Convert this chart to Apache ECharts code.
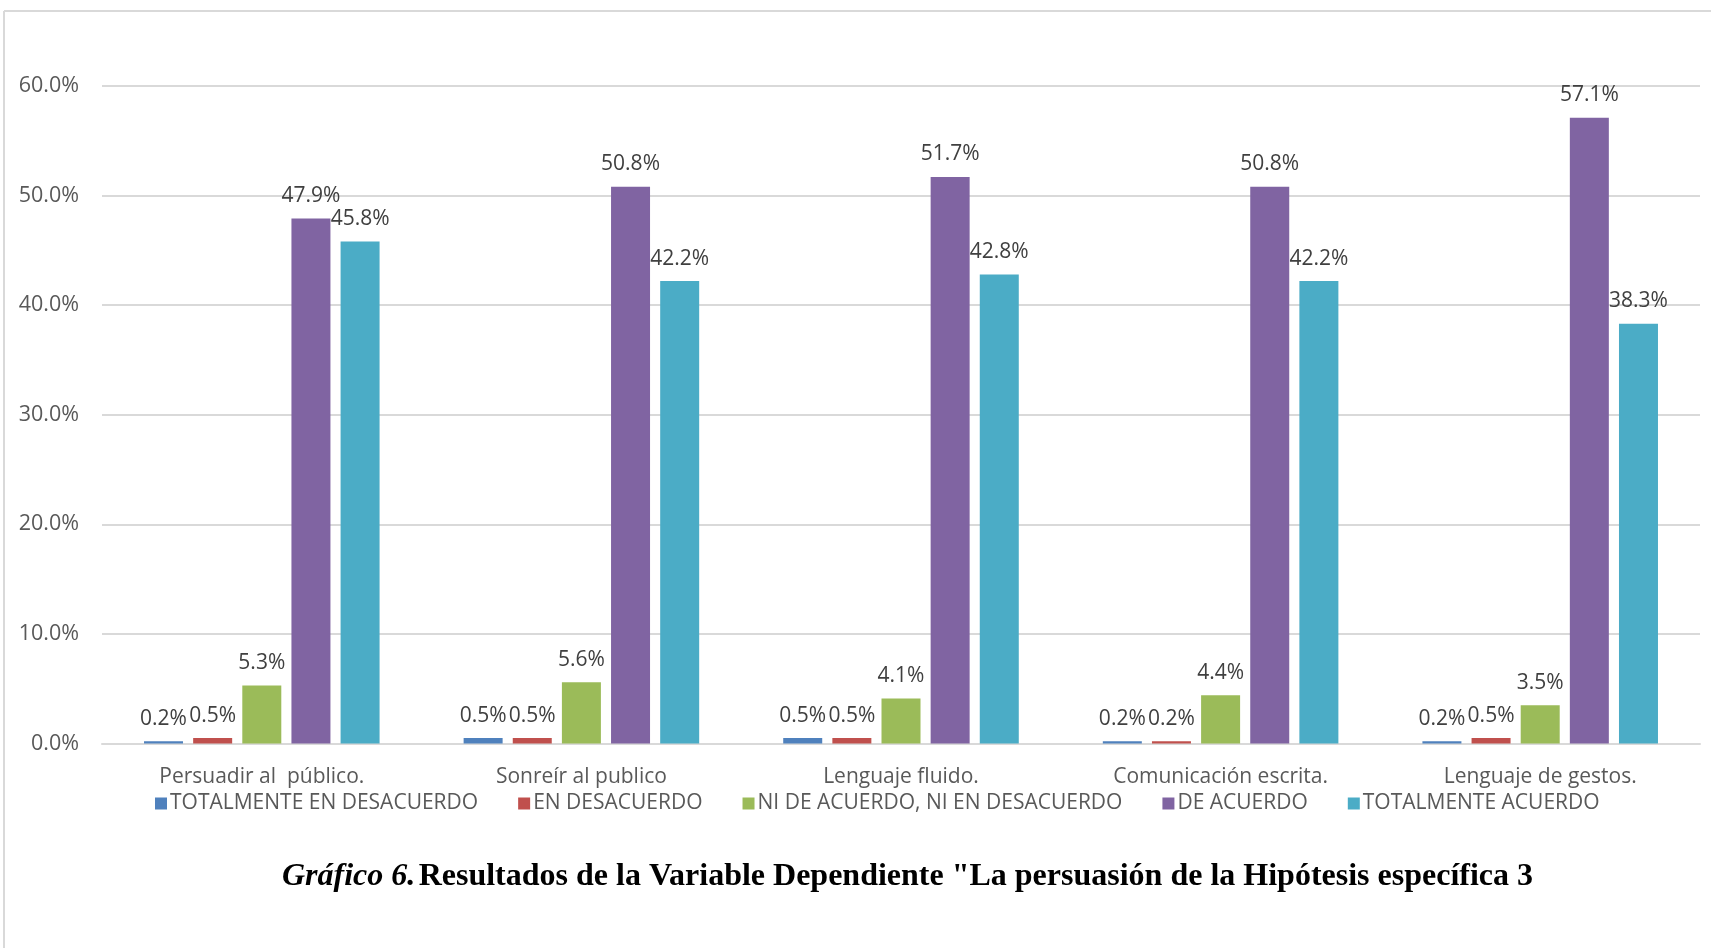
<!DOCTYPE html>
<html>
<head>
<meta charset="utf-8">
<script src="https://cdn.jsdelivr.net/npm/echarts@6/dist/echarts.min.js"></script>
<style>
  html, body { margin: 0; padding: 0; background: #fff; }
  #chart { width: 1711px; height: 948px; }
</style>
</head>
<body>
<div id="chart"></div>
<script>
  // categorías (eje x)
  const categories = ["Persuadir al  público.", "Sonreír al publico", "Lenguaje fluido.", "Comunicación escrita.", "Lenguaje de gestos."];
  // series (porcentajes)
  const totalDesacuerdo = [0.2, 0.5, 0.5, 0.2, 0.2];
  const enDesacuerdo = [0.5, 0.5, 0.5, 0.2, 0.5];
  const niNi = [5.3, 5.6, 4.1, 4.4, 3.5];
  const deAcuerdo = [47.9, 50.8, 51.7, 50.8, 57.1];
  const totalAcuerdo = [45.8, 42.2, 42.8, 42.2, 38.3];
  const seriesNames = ["TOTALMENTE EN DESACUERDO", "EN DESACUERDO", "NI DE ACUERDO, NI EN DESACUERDO", "DE ACUERDO", "TOTALMENTE ACUERDO"];
  const colors = ["#4F81BD", "#C0504D", "#9BBB59", "#8064A2", "#4BACC6"];

  const font = "'Open Sans', sans-serif";
  const allData = [totalDesacuerdo, enDesacuerdo, niNi, deAcuerdo, totalAcuerdo];

  const myChart = echarts.init(document.getElementById("chart"));
  const option = {
    color: colors,
    animation: false,
    grid: { left: 102, right: 11, top: 86, bottom: 204.5 },
    legend: {
      data: seriesNames,
      bottom: 134,
      left: 155,
      padding: 0,
      itemWidth: 12,
      itemHeight: 12,
      itemGap: 40,
      icon: "rect",
      textStyle: { color: "#595959", fontSize: 21, fontFamily: font, padding: [0, 0, 0, -2] },
    },
    xAxis: {
      type: "category",
      data: categories,
      axisLine: { lineStyle: { color: "#D9D9D9", width: 2 } },
      axisTick: { show: false },
      axisLabel: { color: "#595959", fontSize: 21, fontFamily: font, margin: 23 },
    },
    yAxis: {
      type: "value",
      min: 0,
      max: 60,
      interval: 10,
      axisLabel: {
        color: "#595959",
        fontSize: 21.5,
        fontFamily: font,
        margin: 23,
        formatter: (v) => v.toFixed(1) + "%",
      },
      splitLine: { lineStyle: { color: "#D9D9D9", width: 2 } },
    },
    series: allData.map((d, i) => ({
      name: seriesNames[i],
      type: "bar",
      data: d,
      barWidth: 39,
      barGap: "26%",
      label: {
        show: true,
        position: "top",
        distance: 12,
        color: "#404040",
        fontSize: 21,
        fontFamily: font,
        formatter: (p) => p.value.toFixed(1) + "%",
      },
    })),
    graphic: [
      { type: "line", shape: { x1: 4, y1: 11, x2: 1711, y2: 11 }, style: { stroke: "#D9D9D9", lineWidth: 2 } },
      { type: "line", shape: { x1: 4, y1: 11, x2: 4, y2: 948 }, style: { stroke: "#D9D9D9", lineWidth: 2 } },
      {
        type: "text",
        left: 282,
        top: 861,
        style: {
          text: "{i|Gráfico 6.} {b|Resultados de la Variable Dependiente \"La persuasión de la Hipótesis específica 3}",
          rich: {
            i: { fontFamily: "'Liberation Serif', serif", fontStyle: "italic", fontWeight: "bold", fontSize: 32, fill: "#000" },
            b: { fontFamily: "'Liberation Serif', serif", fontWeight: "bold", fontSize: 32, fill: "#000" },
          },
        },
      },
    ],
  };
  myChart.setOption(option);
</script>
</body>
</html>
